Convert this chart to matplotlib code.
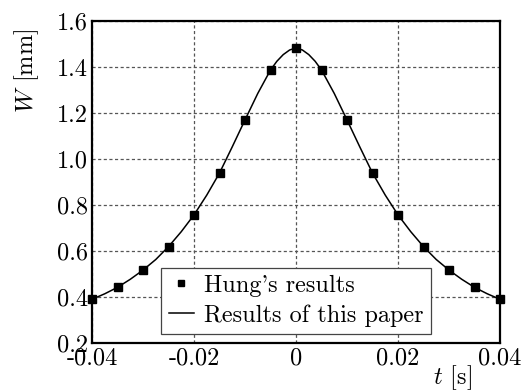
import matplotlib
matplotlib.use('Agg')
import matplotlib.pyplot as plt

plt.rcParams['font.family'] = 'serif'
plt.rcParams['font.serif'] = ['cmr10']
plt.rcParams['mathtext.fontset'] = 'cm'
plt.rcParams['axes.unicode_minus'] = False
plt.rcParams['axes.formatter.use_mathtext'] = True

# Hung's results (markers)
t_hung = [-0.04, -0.035, -0.03, -0.025, -0.02, -0.015, -0.01, -0.005, 0.0,
          0.005, 0.01, 0.015, 0.02, 0.025, 0.03, 0.035, 0.04]
w_hung = [0.39, 0.442, 0.517, 0.619, 0.757, 0.939, 1.17, 1.387, 1.483,
          1.387, 1.17, 0.939, 0.757, 0.619, 0.517, 0.442, 0.39]

# results of this paper (line)
t_line = [-0.04, -0.0375, -0.035, -0.0325, -0.03, -0.0275, -0.025, -0.0225,
          -0.02, -0.0175, -0.015, -0.0125, -0.01, -0.0075, -0.005, -0.00375,
          -0.0025, -0.00125, 0.0, 0.00125, 0.0025, 0.00375, 0.005, 0.0075,
          0.01, 0.0125, 0.015, 0.0175, 0.02, 0.0225, 0.025, 0.0275,
          0.03, 0.0325, 0.035, 0.0375, 0.04]
w_line = [0.39, 0.414, 0.442, 0.477, 0.517, 0.563, 0.619, 0.684,
          0.757, 0.843, 0.939, 1.053, 1.17, 1.285, 1.387, 1.425,
          1.454, 1.474, 1.483, 1.474, 1.454, 1.425, 1.387, 1.285,
          1.17, 1.053, 0.939, 0.843, 0.757, 0.684, 0.619, 0.563,
          0.517, 0.477, 0.442, 0.414, 0.39]

xticks = [-0.04, -0.02, 0, 0.02, 0.04]
xticklabels = ['-0.04', '-0.02', '0', '0.02', '0.04']
yticks = [0.2, 0.4, 0.6, 0.8, 1.0, 1.2, 1.4, 1.6]
yticklabels = ['0.2', '0.4', '0.6', '0.8', '1.0', '1.2', '1.4', '1.6']

fig = plt.figure(figsize=(5.21, 3.92), dpi=100)
ax = fig.add_axes([0.1766, 0.125, 0.7831, 0.8214])

ax.plot(t_hung, w_hung, 's', color='black', markersize=5.5, label="Hung's results",
        clip_on=False, zorder=3)
ax.plot(t_line, w_line, '-', color='black', linewidth=1.1, label='Results of this paper',
        zorder=2)

ax.set_xlim(-0.04, 0.04)
ax.set_ylim(0.2, 1.6)
ax.set_xticks(xticks)
ax.set_xticklabels(xticklabels)
ax.set_yticks(yticks)
ax.set_yticklabels(yticklabels)
ax.tick_params(length=0, labelsize=17.5, pad=3)

ax.grid(True, color='#555555', linestyle=(0, (2.5, 2)), linewidth=0.9)
ax.set_axisbelow(True)
for s in ax.spines.values():
    s.set_linewidth(1.6)

fig.text(0.052, 0.82, '$W$ [mm]', rotation=90, fontsize=17.5, ha='center', va='center')
fig.text(0.868, 0.036, '$t$ [s]', fontsize=17.5, ha='center', va='center')

leg = ax.legend(loc='lower center', bbox_to_anchor=(0.5, 0.0), fontsize=17.5,
                fancybox=False, framealpha=1, edgecolor='#444444',
                handlelength=1.05, handletextpad=0.4, borderpad=0.3,
                labelspacing=0.3, borderaxespad=0.37, markerscale=0.7)
leg.get_frame().set_linewidth(0.9)

fig.savefig('out.png', dpi=100)
